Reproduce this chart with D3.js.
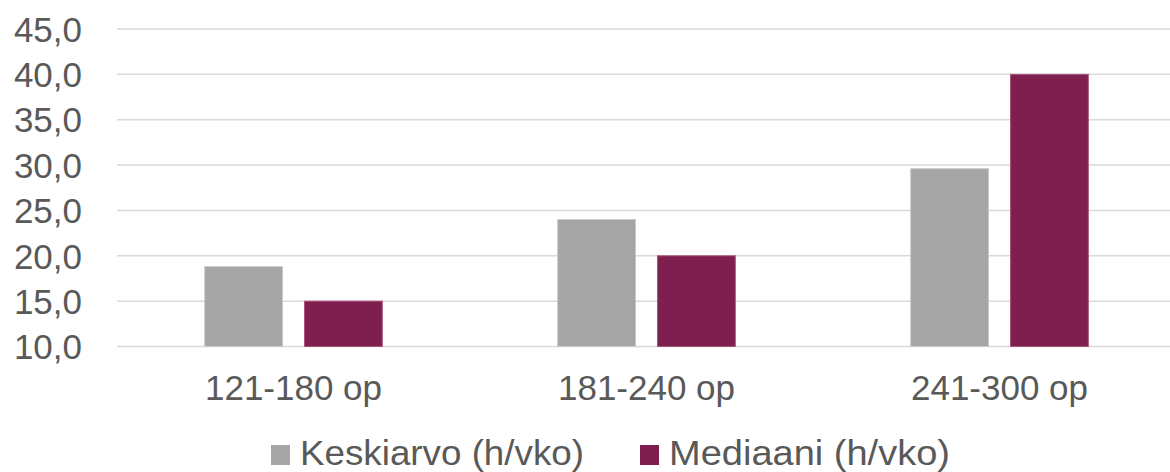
<!DOCTYPE html>
<html>
<head>
<meta charset="utf-8">
<script src="https://cdn.jsdelivr.net/npm/d3@7"></script>
<style>
  body { margin: 0; background: #fff; }
  text { font-family: "Liberation Sans", Arial, sans-serif; fill: #595959; }
</style>
</head>
<body>
<div class="graph"></div>
<script>
const categories = ['121-180 op', '181-240 op', '241-300 op'];
const seriesNames = ['Keskiarvo (h/vko)', 'Mediaani (h/vko)'];
const keskiarvo = [18.8, 24.0, 29.6];
const mediaani = [15.0, 20.0, 40.0];
const yTicks = [10, 15, 20, 25, 30, 35, 40, 45];
const colors = ['#a5a5a5', '#7e1f4f'];
const strokes = ['#c9c9c9', '#a8557d'];

function displayGraph() {
  const w = 1170;
  const h = 472;
  const padding = { top: 29, right: -6, bottom: 125.5, left: 117 };

  const rows = categories.map((c, i) => ({ cat: c, values: [keskiarvo[i], mediaani[i]] }));

  const svg = d3.select('.graph')
    .append('svg')
    .attr('width', w)
    .attr('height', h);

  const x0 = d3.scaleBand()
    .domain(categories)
    .range([padding.left, w - padding.right])
    .paddingInner(0.494)
    .paddingOuter(0.247);

  const x1 = d3.scaleBand()
    .domain([0, 1])
    .range([0, x0.bandwidth()])
    .paddingInner(0.21);

  const yScale = d3.scaleLinear()
    .domain([10, 45])
    .range([h - padding.bottom, padding.top]);

  // gridlines
  svg.append('g')
    .selectAll('line')
    .data(yTicks)
    .join('line')
    .attr('x1', padding.left)
    .attr('x2', w)
    .attr('y1', (d) => yScale(d))
    .attr('y2', (d) => yScale(d))
    .attr('stroke', '#d9d9d9')
    .attr('stroke-width', 1.5);

  // y axis labels
  const yAxis = svg.append('g')
    .attr('class', 'y-axis')
    .attr('transform', `translate(${padding.left - 35}, 0)`)
    .call(d3.axisLeft(yScale)
      .tickValues(yTicks)
      .tickSize(0)
      .tickPadding(0)
      .tickFormat((d) => d.toFixed(1).replace('.', ',')));
  yAxis.select('.domain').remove();
  yAxis.selectAll('text')
    .attr('font-size', 35)
    .attr('dy', '0.35em')
    .style('font-family', '"Liberation Sans", Arial, sans-serif')
    .attr('fill', '#595959');

  // bars
  const groups = svg.append('g')
    .selectAll('g')
    .data(rows)
    .join('g')
    .attr('transform', (d) => `translate(${x0(d.cat)}, 0)`);

  groups.selectAll('rect')
    .data((d) => d.values.map((v, i) => ({ v, i })))
    .join('rect')
    .attr('x', (d) => x1(d.i) + 0.5)
    .attr('width', x1.bandwidth() - 1)
    .attr('y', (d) => yScale(d.v))
    .attr('height', (d) => yScale(10) - yScale(d.v))
    .attr('fill', (d) => colors[d.i])
    .attr('stroke', (d) => strokes[d.i])
    .attr('stroke-width', 1);

  // x axis labels
  const xAxis = svg.append('g')
    .attr('class', 'x-axis')
    .attr('transform', `translate(0, ${h - padding.bottom})`)
    .call(d3.axisBottom(x0).tickSize(0).tickPadding(0));
  xAxis.select('.domain').remove();
  xAxis.selectAll('text')
    .attr('font-size', 35)
    .attr('dy', null)
    .attr('y', 53)
    .style('font-family', '"Liberation Sans", Arial, sans-serif')
    .attr('fill', '#595959');

  // legend
  const legendX = [271, 640];
  const legend = svg.append('g');
  seriesNames.forEach((name, i) => {
    legend.append('rect')
      .attr('x', legendX[i])
      .attr('y', 445)
      .attr('width', 19)
      .attr('height', 20)
      .attr('fill', colors[i]);
    legend.append('text')
      .attr('x', legendX[i] + 29)
      .attr('y', 465)
      .attr('font-size', 35)
      .attr('textLength', i === 0 ? 284 : 281)
      .attr('lengthAdjust', 'spacingAndGlyphs')
      .text(name);
  });
}

displayGraph();
</script>
</body>
</html>
